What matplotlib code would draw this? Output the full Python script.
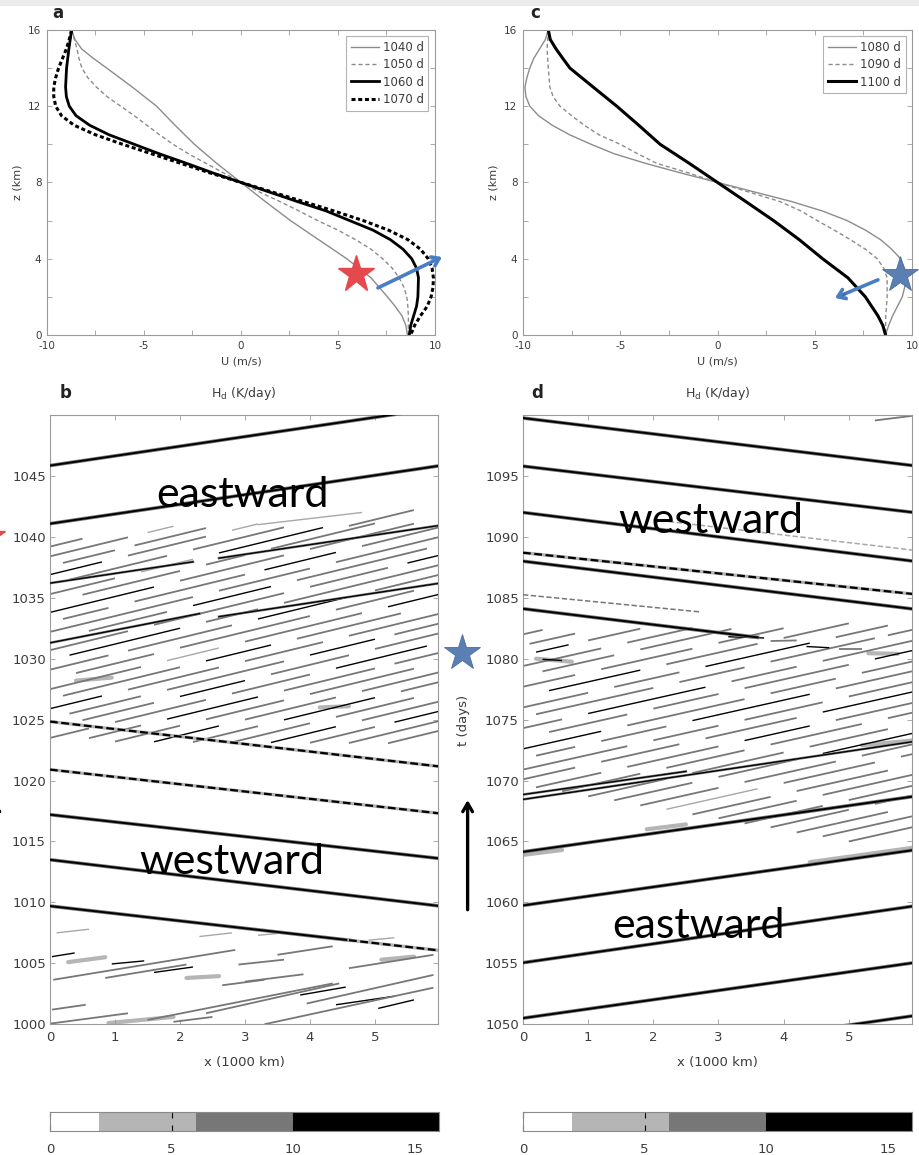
import numpy as np
import matplotlib.pyplot as plt
from matplotlib.colors import ListedColormap, BoundaryNorm
from matplotlib.collections import LineCollection
import matplotlib.patheffects as pe

plt.rcParams['font.family'] = ['DejaVu Sans']
plt.rcParams['axes.unicode_minus'] = False

# ---- zonal wind profiles U(z), panel a ----
z_1040 = [16, 15.5, 15, 14.5, 14, 13, 12, 11, 10, 9, 8, 7, 6, 5, 4, 3, 2, 1.5, 1, 0.5, 0]
u_1040 = [-8.73, -8.56, -8.21, -7.6, -6.92, -5.6, -4.35, -3.4, -2.4, -1.25, 0, 1.25, 2.55, 4.0,
          5.45, 6.7, 7.55, 7.95, 8.3, 8.5, 8.58]
z_1050 = [16, 15, 14.5, 14, 13.5, 13, 12.5, 12, 11.5, 11, 10.5, 10, 9.5, 9, 8.5, 8, 7.5, 7, 6.5, 6,
          5.5, 5, 4.5, 4, 3.5, 3, 2.5, 2, 1.5, 1, 0]
u_1050 = [-8.73, -8.45, -8.35, -8.2, -7.9, -7.45, -6.9, -6.2, -5.5, -4.85, -4.2, -3.5, -2.7, -1.8,
          -0.9, 0, 0.95, 2.0, 3.0, 3.95, 5.0, 5.9, 6.7, 7.3, 7.8, 8.15, 8.4, 8.55, 8.6, 8.63, 8.63]
z_1060 = [16, 15, 14, 13, 12.5, 12, 11.5, 11, 10.5, 10, 9.5, 9, 8.5, 8, 7.5, 7, 6.5, 6, 5.5, 5,
          4.5, 4, 3.5, 3, 2, 1.5, 1, 0.5, 0]
u_1060 = [-8.73, -8.87, -8.99, -9.04, -9.0, -8.85, -8.5, -7.8, -6.8, -5.5, -4.2, -2.8, -1.45, 0,
          1.45, 2.9, 4.4, 5.6, 6.8, 7.7, 8.35, 8.8, 9.05, 9.15, 9.12, 9.05, 8.9, 8.75, 8.68]
z_1070 = [16, 15.5, 15, 14.5, 14, 13.5, 13, 12.5, 12, 11.5, 11, 10.5, 10, 9.5, 9, 8.5, 8, 7.5, 7,
          6.5, 6, 5.5, 5, 4.5, 4, 3.5, 3, 2.5, 2, 1.5, 1, 0.5, 0]
u_1070 = [-8.73, -8.85, -9.0, -9.2, -9.4, -9.55, -9.65, -9.65, -9.55, -9.25, -8.6, -7.5, -6.1,
          -4.6, -3.1, -1.6, 0, 1.6, 3.2, 4.8, 6.3, 7.6, 8.6, 9.25, 9.65, 9.85, 9.92, 9.9, 9.8,
          9.6, 9.25, 8.95, 8.75]

# ---- zonal wind profiles U(z), panel c ----
z_1080 = [16, 15.5, 15, 14.5, 14, 13.5, 13, 12.5, 12, 11.5, 11, 10.5, 10, 9.5, 9, 8.5, 8, 7.5, 7,
          6.5, 6, 5.5, 5, 4.5, 4, 3.5, 3, 2.5, 2, 1.5, 1, 0.5, 0]
u_1080 = [-8.7, -8.85, -9.15, -9.45, -9.65, -9.8, -9.9, -9.85, -9.65, -9.2, -8.5, -7.6, -6.5,
          -5.3, -3.7, -1.9, 0, 1.9, 3.8, 5.4, 6.66, 7.6, 8.38, 8.95, 9.41, 9.62, 9.68, 9.62, 9.5,
          9.25, 9.0, 8.8, 8.64]
z_1090 = [16, 15, 14, 13, 12.5, 12, 11.5, 11, 10.5, 10, 9.5, 9, 8.5, 8, 7.5, 7, 6.5, 6, 5.5, 5,
          4.5, 4, 3.5, 3, 2, 1, 0]
u_1090 = [-8.7, -8.76, -8.7, -8.62, -8.45, -8.1, -7.5, -6.85, -6.1, -5.0, -4.1, -3.12, -1.5, 0,
          1.6, 3.2, 4.3, 5.12, 6.0, 6.83, 7.6, 8.21, 8.55, 8.72, 8.72, 8.65, 8.64]
z_1100 = [16, 15.5, 15, 14.5, 14, 13, 12, 11, 10, 9, 8, 7, 6, 5, 4, 3, 2, 1, 0.5, 0]
u_1100 = [-8.7, -8.6, -8.3, -7.95, -7.59, -6.39, -5.18, -4.05, -2.95, -1.45, 0, 1.45, 2.88, 4.2,
          5.4, 6.7, 7.6, 8.25, 8.5, 8.64]

# ---- heating colour scale H_d (K/day) ----
hd_levels = [0, 2, 6, 10, 16]
hd_colors = ['#ffffff', '#b5b5b5', '#777777', '#000000']
hd_ticks = [0, 5, 10, 15]

# ---- Hovmoller panel b: (x0, t0, x1, t1) in 1000 km / days ----
b_waves_solid = [(0, 1045.85, 6, 1050.6), (0, 1041.08, 6, 1045.84),
                 (0, 1017.2, 6, 1013.6), (0, 1013.5, 6, 1009.7), (0, 1009.7, 4.6, 1006.9)]
b_waves_dashed = [(0, 1024.84, 6, 1021.15), (0, 1020.9, 6, 1017.3), (4.6, 1006.9, 6, 1006.05)]
b_waves_thin = [(0, 1036.2, 2.2, 1037.95), (2.6, 1038.25, 6, 1040.94),
                (0, 1031.3, 2.3, 1033.7), (2.6, 1033.45, 6, 1036.2)]
# short streaks (x0, t0, x1, t1, H_d)
b_streaks = [
    (0.0, 1039.2, 0.5, 1039.85, 8),
    (0.0, 1038.4, 1.2, 1039.96, 8), (1.5, 1040.35, 1.9, 1040.87, 4),
    (0.2, 1037.86, 1.0, 1038.9, 8), (1.3, 1039.29, 2.4, 1040.72, 8),
    (0.0, 1036.9, 0.8, 1037.94, 12), (1.2, 1038.46, 2.4, 1040.02, 8), (2.8, 1040.54, 3.2, 1041.06, 4),
    (0.3, 1036.49, 1.8, 1038.44, 8), (2.2, 1038.96, 3.6, 1040.78, 8),
    (0.0, 1035.3, 1.0, 1036.6, 8), (1.4, 1037.12, 2.2, 1038.16, 4), (2.6, 1038.68, 4.2, 1040.76, 12),
    (0.5, 1035.25, 2.0, 1037.2, 8), (2.4, 1037.72, 3.0, 1038.5, 8), (3.4, 1039.02, 5.0, 1041.1, 8),
    (0.0, 1033.8, 1.6, 1035.88, 12), (2.0, 1036.4, 3.6, 1038.48, 8), (4.0, 1039.0, 5.6, 1041.08, 8),
    (0.2, 1033.26, 0.9, 1034.17, 8), (1.3, 1034.69, 3.0, 1036.9, 8), (3.3, 1037.29, 4.4, 1038.72, 12),
    (4.8, 1039.24, 6.0, 1040.8, 8),
    (0.0, 1032.2, 2.2, 1035.06, 8), (2.6, 1035.58, 4.0, 1037.4, 8), (4.4, 1037.92, 6.0, 1040.0, 8),
    (0.6, 1032.28, 1.8, 1033.84, 8), (2.2, 1034.36, 3.4, 1035.92, 12), (3.8, 1036.44, 5.8, 1039.04, 8),
    (0.0, 1030.7, 1.2, 1032.26, 8), (1.6, 1032.78, 3.6, 1035.38, 8), (4.0, 1035.9, 5.2, 1037.46, 8),
    (5.5, 1037.85, 6.0, 1038.5, 12),
    (0.3, 1030.29, 2.0, 1032.5, 12), (2.4, 1033.02, 3.2, 1034.06, 8), (3.6, 1034.58, 6.0, 1037.7, 8),
    (0.0, 1029.1, 0.9, 1030.27, 8), (1.2, 1030.66, 2.8, 1032.74, 8), (3.2, 1033.26, 4.6, 1035.08, 12),
    (5.0, 1035.6, 6.0, 1036.9, 8),
    (0.4, 1028.82, 1.6, 1030.38, 8), (2.0, 1030.9, 4.0, 1033.5, 8), (4.4, 1034.02, 5.6, 1035.58, 8),
    (0.0, 1027.5, 1.4, 1029.32, 8), (1.8, 1029.84, 2.6, 1030.88, 4), (3.0, 1031.4, 4.8, 1033.74, 8),
    (5.2, 1034.26, 6.0, 1035.3, 12),
    (0.2, 1026.96, 2.0, 1029.3, 8), (2.4, 1029.82, 3.4, 1031.12, 12), (3.8, 1031.64, 5.4, 1033.72, 8),
    (0.0, 1025.9, 0.8, 1026.94, 12), (1.2, 1027.46, 2.6, 1029.28, 8), (3.0, 1029.8, 4.2, 1031.36, 8),
    (4.6, 1031.88, 6.0, 1033.7, 8),
    (0.3, 1025.49, 1.4, 1026.92, 8), (1.8, 1027.44, 3.6, 1029.78, 8), (4.0, 1030.3, 5.0, 1031.6, 12),
    (5.3, 1031.99, 6.0, 1032.9, 8),
    (0.5, 1024.95, 1.6, 1026.38, 8), (2.0, 1026.9, 3.0, 1028.2, 12), (3.4, 1028.72, 4.6, 1030.28, 8),
    (5.0, 1030.8, 6.0, 1032.1, 8),
    (0.0, 1023.5, 0.6, 1024.28, 8), (1.0, 1024.8, 2.4, 1026.62, 8), (2.8, 1027.14, 4.0, 1028.7, 8),
    (4.4, 1029.22, 5.8, 1031.04, 12),
    (0.6, 1023.48, 1.4, 1024.52, 8), (1.8, 1025.04, 3.2, 1026.86, 12), (3.6, 1027.38, 5.0, 1029.2, 8),
    (5.3, 1029.59, 6.0, 1030.5, 8),
    (1.0, 1023.2, 2.0, 1024.5, 8), (2.4, 1025.02, 3.6, 1026.58, 8), (4.0, 1027.1, 5.6, 1029.18, 8),
    (1.6, 1023.18, 2.6, 1024.48, 12), (3.0, 1025.0, 4.4, 1026.82, 8), (4.8, 1027.34, 6.0, 1028.9, 8),
    (2.2, 1023.16, 3.2, 1024.46, 8), (3.6, 1024.98, 5.0, 1026.8, 12), (5.4, 1027.32, 6.0, 1028.1, 8),
    (2.8, 1023.14, 4.0, 1024.7, 8), (4.4, 1025.22, 5.6, 1026.78, 8),
    (3.4, 1023.12, 4.4, 1024.42, 12), (4.8, 1024.94, 6.0, 1026.5, 8),
    (4.0, 1023.1, 5.0, 1024.4, 8), (5.3, 1024.79, 6.0, 1025.7, 12),
    (4.6, 1023.08, 6.0, 1024.9, 8), (5.2, 1023.06, 6.0, 1024.1, 8),
    (3.2, 1041.0, 4.8, 1042.0, 4), (4.6, 1040.9, 5.6, 1042.2, 8),
    # early period below the westward packets
    (0.03, 1005.55, 0.38, 1005.85, 12), (0.05, 1003.65, 2.85, 1006.1, 8),
    (0.95, 1004.95, 1.45, 1005.2, 12), (0.85, 1003.8, 2.1, 1004.9, 8),
    (1.6, 1004.25, 2.2, 1004.7, 12), (2.65, 1003.2, 3.3, 1003.65, 8),
    (3.0, 1003.5, 3.9, 1004.1, 8), (3.5, 1005.7, 4.35, 1006.4, 8),
    (3.85, 1002.4, 4.55, 1003.05, 12), (2.4, 1000.9, 4.45, 1003.35, 8),
    (3.95, 1001.7, 5.9, 1004.05, 8), (4.4, 1001.6, 5.3, 1002.3, 12),
    (0.03, 1001.2, 0.55, 1001.6, 8), (1.5, 1000.35, 4.35, 1003.35, 8),
    (5.05, 1001.3, 5.6, 1002.0, 12), (0.0, 1000.05, 1.2, 1000.9, 8),
    (3.3, 1000.0, 5.9, 1003.0, 8), (1.9, 1000.2, 2.5, 1000.6, 8),
    (4.6, 1004.6, 5.9, 1005.7, 8), (2.9, 1004.9, 3.6, 1005.3, 8),
    (0.1, 1007.5, 0.6, 1007.8, 4), (2.3, 1007.2, 2.8, 1007.5, 4),
    (4.9, 1006.9, 5.3, 1007.1, 4), (3.2, 1007.3, 3.5, 1007.45, 4),
]
# broad weak patches (x0, t0, x1, t1, H_d)
b_patches = [(0.28, 1005.1, 0.85, 1005.5, 4), (2.1, 1003.8, 2.6, 1003.95, 4),
             (0.9, 1000.1, 1.9, 1000.6, 4), (5.1, 1005.3, 5.6, 1005.55, 4),
             (0.4, 1028.2, 0.95, 1028.45, 4), (4.15, 1026.0, 4.6, 1026.1, 4)]

# ---- Hovmoller panel d ----
d_waves_solid = [(0, 1099.75, 6, 1095.84), (0, 1095.8, 6, 1092.0), (0, 1092.0, 6, 1088.0),
                 (0, 1088.0, 6, 1084.07), (0, 1084.1, 3.6, 1081.75),
                 (0, 1064.15, 6, 1068.7), (0, 1059.75, 6, 1064.3), (0, 1055.05, 6, 1059.7),
                 (0, 1050.5, 6, 1055.05), (0, 1046.1, 6, 1050.7)]
d_waves_dashed = [(0, 1088.7, 6, 1085.3, 12), (0, 1085.25, 2.7, 1083.85, 8), (2.0, 1091.4, 6, 1088.9, 4)]
d_waves_thin = [(0, 1068.45, 6, 1073.2), (0, 1068.85, 2.5, 1070.75)]
d_streaks = [
    (0.0, 1082.0, 0.3, 1082.36, 8), (0.1, 1081.22, 0.8, 1082.06, 8),
    (0.2, 1080.54, 0.7, 1081.14, 12), (1.0, 1081.5, 1.8, 1082.46, 8),
    (0.0, 1079.4, 1.2, 1080.84, 8), (1.6, 1081.32, 2.6, 1082.52, 8),
    (0.3, 1078.96, 1.4, 1080.28, 8), (1.8, 1080.76, 3.2, 1082.44, 8),
    (0.0, 1077.7, 0.8, 1078.66, 8), (1.2, 1079.14, 2.6, 1080.82, 8), (3.0, 1081.3, 4.0, 1082.5, 8),
    (0.4, 1077.38, 1.8, 1079.06, 12), (2.2, 1079.54, 3.6, 1081.22, 8), (4.0, 1081.7, 5.0, 1082.9, 8),
    (0.0, 1076.0, 1.0, 1077.2, 8), (1.4, 1077.68, 2.4, 1078.88, 8), (2.8, 1079.36, 4.4, 1081.28, 12),
    (4.8, 1081.76, 5.6, 1082.72, 8),
    (0.2, 1075.44, 2.0, 1077.6, 8), (2.4, 1078.08, 3.4, 1079.28, 8), (3.8, 1079.76, 5.4, 1081.68, 8),
    (5.6, 1081.92, 6.0, 1082.4, 8),
    (0.0, 1074.3, 0.6, 1075.02, 8), (1.0, 1075.5, 2.8, 1077.66, 12), (3.2, 1078.14, 4.2, 1079.34, 8),
    (4.6, 1079.82, 6.0, 1081.5, 8),
    (0.4, 1073.98, 1.6, 1075.42, 8), (2.0, 1075.9, 3.0, 1077.1, 8), (3.4, 1077.58, 5.0, 1079.5, 8),
    (5.4, 1079.98, 6.0, 1080.7, 12),
    (0.0, 1072.6, 1.2, 1074.04, 12), (1.6, 1074.52, 3.4, 1076.68, 8), (3.8, 1077.16, 4.8, 1078.36, 8),
    (5.2, 1078.84, 6.0, 1079.8, 8),
    (0.2, 1072.04, 0.8, 1072.76, 8), (1.2, 1073.24, 2.2, 1074.44, 8), (2.6, 1074.92, 4.4, 1077.08, 12),
    (4.8, 1077.56, 6.0, 1079.0, 8),
    (0.0, 1070.9, 1.6, 1072.82, 8), (2.0, 1073.3, 3.0, 1074.5, 8), (3.4, 1074.98, 4.6, 1076.42, 8),
    (5.0, 1076.9, 6.0, 1078.1, 8),
    (0.0, 1070.1, 0.8, 1071.06, 8), (1.2, 1071.54, 2.4, 1072.98, 8), (2.8, 1073.46, 4.2, 1075.14, 8),
    (4.6, 1075.62, 6.0, 1077.3, 12),
    (0.2, 1069.44, 1.2, 1070.64, 8), (1.6, 1071.12, 3.0, 1072.8, 8), (3.4, 1073.28, 4.4, 1074.48, 12),
    (4.8, 1074.96, 6.0, 1076.4, 8),
    (0.6, 1069.12, 1.8, 1070.56, 8), (2.2, 1071.04, 3.4, 1072.48, 8), (3.8, 1072.96, 5.2, 1074.64, 8),
    (5.6, 1075.12, 6.0, 1075.6, 8),
    (1.0, 1068.7, 2.2, 1070.14, 8), (2.6, 1070.62, 4.0, 1072.3, 8), (4.4, 1072.78, 5.6, 1074.22, 8),
    (1.4, 1068.38, 2.6, 1069.82, 8), (3.0, 1070.3, 4.2, 1071.74, 8), (4.6, 1072.22, 6.0, 1073.9, 12),
    (1.8, 1067.96, 3.0, 1069.4, 8), (3.4, 1069.88, 4.8, 1071.56, 8), (5.2, 1072.04, 6.0, 1073.0, 8),
    (2.2, 1067.64, 3.6, 1069.32, 4), (4.0, 1069.8, 5.4, 1071.48, 8), (5.8, 1071.96, 6.0, 1072.2, 8),
    (2.6, 1067.22, 3.8, 1068.66, 8), (4.2, 1069.14, 5.6, 1070.82, 8),
    (3.0, 1066.9, 4.2, 1068.34, 8), (4.6, 1068.82, 6.0, 1070.5, 8),
    (3.4, 1066.48, 4.6, 1067.92, 8), (5.0, 1068.4, 6.0, 1069.6, 8),
    (3.8, 1066.16, 5.0, 1067.6, 8), (5.4, 1068.08, 6.0, 1068.8, 8),
    (4.2, 1065.74, 5.6, 1067.42, 8), (4.6, 1065.42, 6.0, 1067.1, 8), (5.0, 1065.0, 6.0, 1066.2, 8),
    (0.3, 1079.95, 0.6, 1079.85, 12), (3.15, 1081.8, 3.7, 1081.7, 12), (3.8, 1081.45, 4.2, 1081.5, 8),
    (4.35, 1081.0, 4.7, 1080.9, 12), (4.85, 1080.8, 5.2, 1080.8, 8), (5.4, 1099.55, 6.0, 1099.95, 8),
]
d_patches = [(0.2, 1080.0, 0.75, 1079.75, 4), (5.3, 1080.45, 5.75, 1080.4, 4),
             (4.4, 1063.3, 6.0, 1064.5, 4), (0.0, 1063.9, 0.6, 1064.3, 4),
             (1.9, 1066.0, 2.5, 1066.4, 4), (5.2, 1072.9, 6.0, 1073.3, 4)]

cmap = ListedColormap(hd_colors)
norm = BoundaryNorm(hd_levels, cmap.N)

fig = plt.figure(figsize=(9.19, 11.55), dpi=100)
fig.patches.append(plt.Rectangle((0, 0.9955), 1, 0.0045, transform=fig.transFigure,
                                 color='#ebebeb', zorder=0))

ax_a = fig.add_axes([0.0511, 0.7100, 0.4222, 0.2641])
ax_c = fig.add_axes([0.5691, 0.7100, 0.4233, 0.2641])
ax_b = fig.add_axes([0.0544, 0.1132, 0.4222, 0.5275])
ax_d = fig.add_axes([0.5691, 0.1132, 0.4233, 0.5275])
cax_b = fig.add_axes([0.0544, 0.0208, 0.4233, 0.0165])
cax_d = fig.add_axes([0.5691, 0.0208, 0.4233, 0.0165])

grey = '#8c8c8c'


def box_style(ax, size, pad):
    ax.tick_params(which='both', direction='in', top=True, right=True, length=3.5,
                   colors='#9a9a9a', labelcolor='#3c3c3c', labelsize=size, pad=pad, width=0.6)
    for s in ax.spines.values():
        s.set_color('#9a9a9a')
        s.set_linewidth(0.8)


# ---- profile panels ----
for ax in (ax_a, ax_c):
    ax.set_xlim(-10, 10)
    ax.set_ylim(0, 16)
    ax.set_xticks([-10, -5, 0, 5, 10])
    ax.set_xticks([-7.5, -2.5, 2.5, 7.5], minor=True)
    ax.set_yticks([0, 4, 8, 12, 16])
    ax.set_yticks([2, 6, 10, 14], minor=True)
    box_style(ax, 7.5, 4)
    ax.text(0.5, -0.088, 'U (m/s)', transform=ax.transAxes, ha='center', va='center',
            fontsize=8, color='#3c3c3c')
    ax.text(-0.076, 0.5, 'z (km)', transform=ax.transAxes, ha='center', va='center',
            rotation=90, fontsize=8, color='#3c3c3c')

ax_a.plot(u_1040, z_1040, color=grey, lw=1.0, label='1040 d')
ax_a.plot(u_1050, z_1050, color=grey, lw=1.0, ls=(0, (3, 2)), label='1050 d')
ax_a.plot(u_1060, z_1060, color='black', lw=2.0, label='1060 d')
ax_a.plot(u_1070, z_1070, color='black', lw=2.2, ls=(0, (1.3, 0.9)), label='1070 d')
ax_c.plot(u_1080, z_1080, color=grey, lw=1.0, label='1080 d')
ax_c.plot(u_1090, z_1090, color=grey, lw=1.0, ls=(0, (3, 2)), label='1090 d')
ax_c.plot(u_1100, z_1100, color='black', lw=2.2, label='1100 d')

for ax in (ax_a, ax_c):
    leg = ax.legend(loc='upper right', fontsize=8.5, fancybox=False, edgecolor='#a0a0a0',
                    handlelength=2.4, handletextpad=0.3, labelspacing=0.36,
                    borderpad=0.4, borderaxespad=0.55)
    leg.get_frame().set_linewidth(0.8)
    for t in leg.get_texts():
        t.set_color('#3c3c3c')

ax_a.text(0.028, 1.056, 'a', transform=ax_a.transAxes, ha='center', va='center',
          fontsize=12, fontweight='bold', color='#222222')
ax_c.text(0.031, 1.056, 'c', transform=ax_c.transAxes, ha='center', va='center',
          fontsize=12, fontweight='bold', color='#222222')


# ---- Hovmoller panels ----
def draw_hov(ax, solid, dashed, thin, streaks, patches):
    for x0, t0, x1, t1, v in patches:
        ax.plot([x0, x1], [t0, t1], color=cmap(norm(v)), lw=3.0, solid_capstyle='round', zorder=1)
    segs = [[(s[0], s[1]), (s[2], s[3])] for s in streaks]
    cols = [cmap(norm(s[4])) if s[4] > 4 else '#a8a8a8' for s in streaks]
    lws = [1.0 if s[4] >= 12 else (1.3 if s[4] >= 6 else 1.0) for s in streaks]
    ax.add_collection(LineCollection(segs, colors=cols, linewidths=lws, zorder=2))
    for x0, t0, x1, t1 in thin:
        ax.plot([x0, x1], [t0, t1], color=cmap(norm(8)), lw=1.8, zorder=3)
        ax.plot([x0, x1], [t0, t1], color=cmap(norm(12)), lw=0.9, zorder=3)
    for x0, t0, x1, t1 in solid:
        ax.plot([x0, x1], [t0, t1], color=cmap(norm(8)), lw=2.6, zorder=4)
        ax.plot([x0, x1], [t0, t1], color=cmap(norm(12)), lw=1.4, zorder=4)
    for seg in dashed:
        x0, t0, x1, t1 = seg[:4]
        v = seg[4] if len(seg) > 4 else 12
        if v >= 12:
            ax.plot([x0, x1], [t0, t1], color=cmap(norm(4)), lw=2.4, zorder=4)
        ax.plot([x0, x1], [t0, t1], color=cmap(norm(v)) if v > 4 else '#a8a8a8',
                lw=1.6 if v >= 12 else 1.1, ls=(0, (3.5, 1.6)), zorder=4)


for ax, t0 in ((ax_b, 1000), (ax_d, 1050)):
    ax.set_xlim(0, 5.97)
    ax.set_ylim(t0, t0 + 50)
    ax.set_xticks([0, 1, 2, 3, 4, 5])
    ax.set_yticks(np.arange(t0, t0 + 50, 5))
    box_style(ax, 9.5, 5)
    ax.tick_params(axis='y', pad=3)
    ax.text(0.5, -0.062, 'x (1000 km)', transform=ax.transAxes, ha='center', va='center',
            fontsize=9.5, color='#3c3c3c')
    ax.text(0.5, 1.036, r'H$_{\rm d}$ (K/day)', transform=ax.transAxes, ha='center', va='center',
            fontsize=9, color='#3c3c3c')

draw_hov(ax_b, b_waves_solid, b_waves_dashed, b_waves_thin, b_streaks, b_patches)
draw_hov(ax_d, d_waves_solid, d_waves_dashed, d_waves_thin, d_streaks, d_patches)

ax_b.text(0.039, 1.036, 'b', transform=ax_b.transAxes, ha='center', va='center',
          fontsize=12, fontweight='bold', color='#222222')
ax_d.text(0.036, 1.036, 'd', transform=ax_d.transAxes, ha='center', va='center',
          fontsize=12, fontweight='bold', color='#222222')
ax_d.text(-0.154, 0.498, 't (days)', transform=ax_d.transAxes, ha='center', va='center',
          rotation=90, fontsize=9.5, color='#3c3c3c')

# propagation labels
lab = dict(fontsize=31, family=['Lato', 'DejaVu Sans'], ha='center', va='baseline', zorder=10)
ax_b.text(0.495, 0.849, 'eastward', transform=ax_b.transAxes, **lab)
ax_b.text(0.469, 0.246, 'westward', transform=ax_b.transAxes, **lab)
ax_d.text(0.483, 0.807, 'westward', transform=ax_d.transAxes, **lab)
ax_d.text(0.450, 0.141, 'eastward', transform=ax_d.transAxes, **lab)

# ---- colour bars: one filled band per H_d class ----
for cax in (cax_b, cax_d):
    for lo, hi, c in zip(hd_levels[:-1], hd_levels[1:], hd_colors):
        cax.axvspan(lo, hi, color=c, lw=0)
    cax.set_xlim(hd_levels[0], hd_levels[-1])
    cax.set_ylim(0, 1)
    cax.set_yticks([])
    cax.set_xticks(hd_ticks)
    cax.tick_params(axis='x', direction='in', top=True, length=4, width=0.8, color='black',
                    labelcolor='#3c3c3c', labelsize=9.5, pad=9)
    for s in cax.spines.values():
        s.set_color('#8a8a8a')
        s.set_linewidth(0.8)

# ---- annotations: markers and arrows ----
star_red = '#e5484d'
star_blue = '#5a7fb2'
arrow_blue = '#4a7ec4'

ax_a.plot([5.93], [3.2], marker='*', ms=28, color=star_red, mec=star_red, clip_on=False, zorder=12)
ax_a.annotate('', xy=(10.36, 4.09), xytext=(7.06, 2.47), annotation_clip=False, zorder=12,
              arrowprops=dict(arrowstyle='->,head_length=0.5,head_width=0.35', color=arrow_blue,
                              lw=2.6, shrinkA=0, shrinkB=0))
ax_c.plot([9.38], [3.15], marker='*', ms=27, color=star_blue, mec='#4a6d9c', mew=0.6,
          clip_on=False, zorder=12)
ax_c.annotate('', xy=(6.04, 1.94), xytext=(8.25, 2.89), annotation_clip=False, zorder=12,
              arrowprops=dict(arrowstyle='->,head_length=0.5,head_width=0.35', color=arrow_blue,
                              lw=2.6, shrinkA=0, shrinkB=0,
                              path_effects=[pe.withSimplePatchShadow(offset=(1.5, -1.5), alpha=0.35)]))

ax_d.plot([-0.94], [1080.5], marker='*', ms=27, color=star_blue, mec='#4a6d9c', mew=0.6,
          clip_on=False, zorder=12)
ax_b.plot([-0.97], [1040.0], marker='*', ms=27, color=star_red, clip_on=False, zorder=12)
for ax, t0 in ((ax_b, 1000), (ax_d, 1050)):
    ax.annotate('', xy=(-0.85, t0 + 18.4), xytext=(-0.85, t0 + 9.4), annotation_clip=False,
                arrowprops=dict(arrowstyle='->,head_length=0.6,head_width=0.35', color='black',
                                lw=2.4, shrinkA=0, shrinkB=0))

fig.savefig('out.png', dpi=100)
